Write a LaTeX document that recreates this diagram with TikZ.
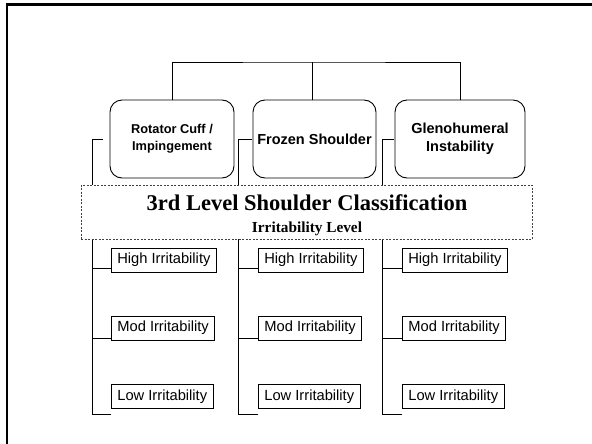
\documentclass[tikz,border=0pt]{standalone}
\usepackage{fontspec}
\setmainfont{Liberation Serif}
\setsansfont{Liberation Sans}
\begin{document}
\begin{tikzpicture}[x=1pt,y=-1pt,
  topbox/.style={draw, rounded corners=12pt, line width=0.9pt, minimum height=78pt,
    align=center, inner sep=0pt, font=\sffamily\bfseries\fontsize{14.5}{18}\selectfont},
  irr/.style={draw, line width=0.7pt, anchor=north west, minimum height=24pt,
    inner xsep=6pt, inner ysep=0pt, font=\sffamily\fontsize{14.7}{17}\selectfont},
  link/.style={line width=0.8pt},
  frame/.style={line width=2.5pt},
  classbox/.style={draw=black!75, fill=white, dash pattern=on 2pt off 1.5pt,
    line width=0.8pt, minimum width=451pt, minimum height=54pt, inner sep=0pt}]
\useasboundingbox (0,0) rectangle (592,444);

% slide frame
\draw[frame] (7,444) |- (592,4.5);

% second-level categories
\node[topbox, minimum width=124pt, font=\sffamily\bfseries\fontsize{12.8}{17}\selectfont]
  (b1) at (172,139) {Rotator Cuff /\\Impingement};
\node[topbox, minimum width=123pt] (b2) at (314.5,139) {Frozen Shoulder};
\node[topbox, minimum width=130pt] (b3) at (460,139) {Glenohumeral\\Instability};

% bracket joining the three categories
\coordinate (bar) at (312,62);
\draw[link] (b1.north) |- (bar) -| (b3.north);
\draw[link] ([xshift=-2.5pt]b2.north) -- ([xshift=-2.5pt]b2.north |- bar);

% irritability boxes, one column per category
\foreach \c/\bx in {1/111, 2/258, 3/402} {
  \node[irr] (hi\c) at (\bx,247.5) {High Irritability};
  \node[irr] (mo\c) at (\bx,315.5) {Mod Irritability};
  \node[irr] (lo\c) at (\bx,384) {Low Irritability};
}

% rails down the left side of each column
\coordinate (r1top) at (92,139);  \coordinate (r1end) at (103,139);
\coordinate (r2top) at (238,139); \coordinate (r2end) at (252,139);
\coordinate (r3top) at (382,139); \coordinate (r3end) at (394,139);
\foreach \c in {1,2,3} {
  \draw[link] (r\c end) -- (r\c top) |- ([yshift=-6pt]lo\c.south west);
  \draw[link] ([yshift=4pt]hi\c.south west) -- ([yshift=4pt]hi\c.south west -| r\c top);
  \draw[link] ([yshift=2pt]mo\c.south west) -- ([yshift=2pt]mo\c.south west -| r\c top);
}

% third-level heading over the rails
\node[classbox] (cls) at (306.5,212) {};
\node[anchor=base, inner sep=0pt, font=\bfseries\fontsize{22.5}{26}\selectfont]
  (title) at (307,210) {3rd Level Shoulder Classification};
\node[anchor=base, inner sep=0pt, font=\bfseries\fontsize{15.3}{18}\selectfont]
  (sub) at (307,232) {Irritability Level};
\end{tikzpicture}
\end{document}
